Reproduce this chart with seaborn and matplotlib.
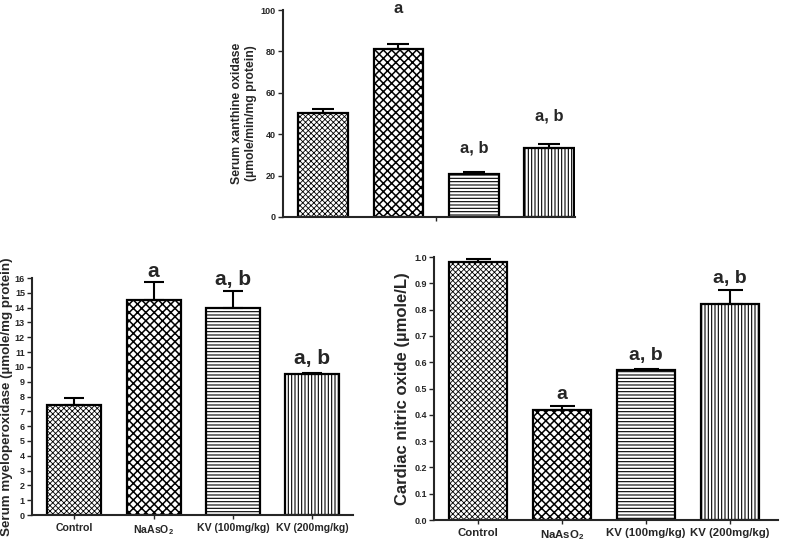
import numpy as np
import pandas as pd
import matplotlib.pyplot as plt
import seaborn as sns

# group names and values
groups = ["Control", "NaAsO$_2$", "KV (100mg/kg)", "KV (200mg/kg)"]

xo_mean = [50.2, 81.3, 20.7, 33.2]
xo_err = [1.9, 2.3, 0.9, 2.1]
xo_sig = ["", "a", "a, b", "a, b"]

mpo_mean = [7.4, 14.55, 13.95, 9.55]
mpo_err = [0.5, 1.15, 1.2, 0.05]
mpo_sig = ["", "a", "a, b", "a, b"]

no_mean = [0.98, 0.42, 0.57, 0.82]
no_err = [0.013, 0.012, 0.003, 0.056]
no_sig = ["", "a", "a, b", "a, b"]

hatches = ["xxxxxx", "xxxx", "-----", "|||||"]
hatch_lw = [0.6, 1.1, 0.8, 0.8]

sns.set_style("ticks")
plt.rcParams["font.family"] = ["Liberation Sans", "DejaVu Sans"]
plt.rcParams["font.weight"] = "bold"
plt.rcParams["mathtext.fontset"] = "custom"
plt.rcParams["mathtext.rm"] = "Liberation Sans:bold"
plt.rcParams["mathtext.it"] = "Liberation Sans:bold"
plt.rcParams["mathtext.bf"] = "Liberation Sans:bold"
plt.rcParams["hatch.linewidth"] = 0.8
plt.rcParams["hatch.color"] = "black"


def bar_panel(ax, means, errs, sig, width, capsize, sig_size, sig_off, ylim, yticks):
    df = pd.DataFrame({"group": groups, "value": means})
    sns.barplot(data=df, x="group", y="value", ax=ax, color="white",
                edgecolor="black", linewidth=1.6, width=width, errorbar=None,
                saturation=1)
    for p, h, lw in zip(ax.patches, hatches, hatch_lw):
        p.set_hatch(h)
        if hasattr(p, "set_hatch_linewidth"):
            p.set_hatch_linewidth(lw)
    pos = np.arange(len(means))
    ax.errorbar(pos, means, yerr=[np.zeros(len(errs)), errs], fmt="none",
                ecolor="black", elinewidth=1.5, capsize=capsize, capthick=1.5,
                zorder=1)
    for i, s in enumerate(sig):
        if s:
            ax.annotate(s, (pos[i], means[i] + errs[i]), xytext=(0, sig_off[i]),
                        textcoords="offset points", ha="center", va="baseline",
                        fontsize=sig_size, fontweight="bold", annotation_clip=False)
    ax.set_ylim(*ylim)
    ax.set_yticks(yticks)
    ax.set_xlabel("")
    for sp in ["left", "bottom"]:
        ax.spines[sp].set_linewidth(1.5)
    sns.despine(ax=ax)
    ax.tick_params(axis="y", length=3.5, width=1, labelsize=6.5, pad=1.5)


fig = plt.figure(figsize=(7.86, 5.5), dpi=100)

# top panel: xanthine oxidase
ax1 = fig.add_axes([0.360, 0.6055, 0.3716, 0.3763])
bar_panel(ax1, xo_mean, xo_err, xo_sig, 0.66, 8, 12, [0, 22, 14, 17],
          (0, 100), np.arange(0, 101, 20))
ax1.set_xlim(-0.53, 3.34)
ax1.set_xticks([1.5])
ax1.set_xticklabels([""])
ax1.tick_params(axis="x", length=3, width=1)
ax1.set_ylabel("Serum xanthine oxidase\n(\u00b5mole/min/mg protein)",
               fontsize=8.8, fontweight="bold", labelpad=3)

# bottom left: myeloperoxidase
ax2 = fig.add_axes([0.0407, 0.0636, 0.4084, 0.4309])
bar_panel(ax2, mpo_mean, mpo_err, mpo_sig, 0.68, 7, 15, [0, 4, 4, 6],
          (0, 16), np.arange(0, 17, 1))
ax2.set_xlim(-0.53, 3.51)
ax2.tick_params(axis="x", length=3, width=1, labelsize=7.6, pad=3)
ax2.set_ylabel("Serum myeloperoxidase (\u00b5mole/mg protein)",
               fontsize=9.6, fontweight="bold", labelpad=1)

# bottom right: nitric oxide
ax3 = fig.add_axes([0.552, 0.0545, 0.4377, 0.4782])
bar_panel(ax3, no_mean, no_err, no_sig, 0.69, 9, 14, [0, 5, 7, 5],
          (0, 1.0), np.round(np.arange(0, 1.01, 0.1), 1))
ax3.set_xlim(-0.52, 3.57)
ax3.set_yticklabels([f"{t:.1f}" for t in np.arange(0, 1.01, 0.1)])
ax3.tick_params(axis="x", length=3, width=1, labelsize=8.2, pad=3)
ax3.set_ylabel("Cardiac nitric oxide (\u00b5mole/L)",
               fontsize=12, fontweight="bold", labelpad=3)

plt.savefig("out.png", dpi=100)
